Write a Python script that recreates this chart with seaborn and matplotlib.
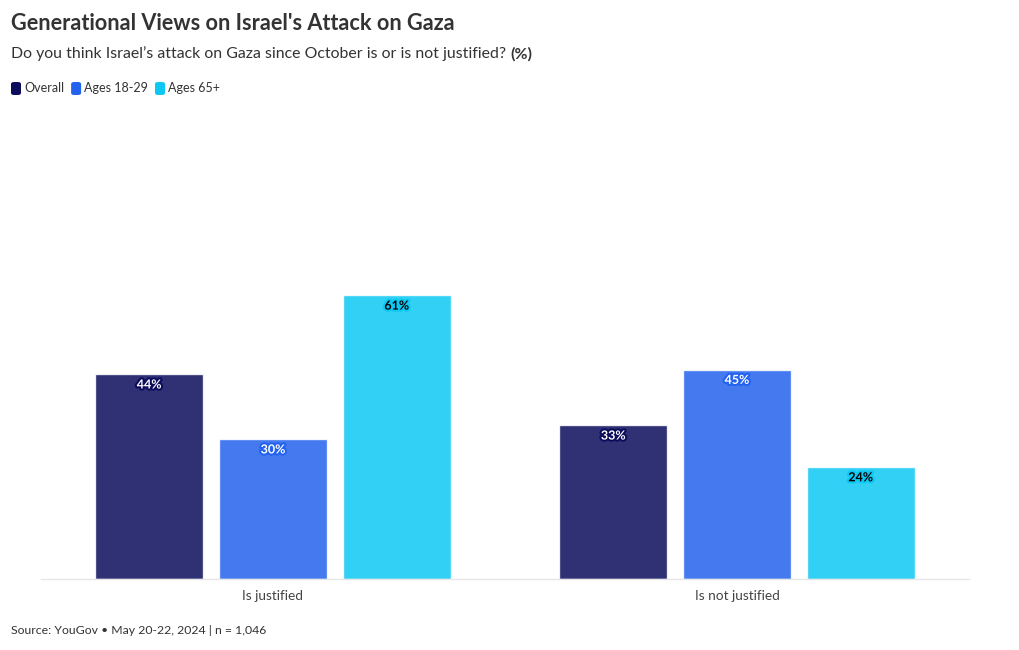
import pandas as pd
import seaborn as sns
import matplotlib.pyplot as plt
import matplotlib.patheffects as pe
from matplotlib.patches import FancyBboxPatch

# data
responses = ["Is justified", "Is not justified"]
groups = ["Overall", "Ages 18-29", "Ages 65+"]
overall = [44, 33]
ages_18_29 = [30, 45]
ages_65 = [61, 24]

colors = ["#0c0c5c", "#2362ee", "#0dc8f3"]
label_text = ["white", "white", "black"]

df = pd.DataFrame({
    "response": responses * 3,
    "group": [g for g in groups for _ in responses],
    "pct": overall + ages_18_29 + ages_65,
})

sns.set_style("white")
plt.rcParams["font.family"] = ["Lato", "DejaVu Sans"]

fig = plt.figure(figsize=(10.2, 6.5), dpi=100)
ax = fig.add_axes([41 / 1020, 1 - 578.5 / 650, 928 / 1020, 464 / 650])

sns.barplot(data=df, x="response", y="pct", hue="group", hue_order=groups,
            palette=colors, alpha=0.85, width=0.8, gap=0.13, saturation=1,
            legend=False, ax=ax)

ax.set_ylim(0, 100)
ax.set_xlim(-0.5, 1.5)
ax.set_xlabel("")
ax.set_ylabel("")
ax.set_yticks([])
ax.tick_params(axis="x", length=0, pad=8, labelsize=9.8, labelcolor="#444444")
for s in ["top", "right", "left"]:
    ax.spines[s].set_visible(False)
ax.spines["bottom"].set_color("#e6e6e6")
ax.spines["bottom"].set_linewidth(1)

# value labels inside top of bars
for i, cont in enumerate(ax.containers):
    for bar in cont:
        h = bar.get_height()
        ax.annotate(f"{h:.0f}%", (bar.get_x() + bar.get_width() / 2, h),
                    xytext=(0, -3), textcoords="offset points",
                    ha="center", va="top", fontsize=9, fontweight="bold",
                    color=label_text[i],
                    path_effects=[pe.withStroke(linewidth=3, foreground=colors[i])])

# titles
fig.text(11 / 1020, 1 - 24 / 650, "Generational Views on Israel's Attack on Gaza",
         fontsize=15.6, fontweight="bold", color="#333333", va="center")
fig.text(11 / 1020, 1 - 54 / 650,
         "Do you think Israel\u2019s attack on Gaza since October is or is not justified? ",
         fontsize=11.4, color="#333333", va="center")
fig.text(11 / 1020, 1 - 631 / 650, "Source: YouGov \u2022 May 20-22, 2024 | n = 1,046",
         fontsize=8.8, color="#333333", va="center")

# legend with rounded swatches
x = 11
for g, c in zip(groups, colors):
    fig.patches.append(FancyBboxPatch((x / 1020, 1 - 95 / 650), 10 / 1020, 13 / 650,
                                      boxstyle="round,pad=0,rounding_size=0.003",
                                      transform=fig.transFigure, facecolor=c,
                                      edgecolor="none"))
    t = fig.text((x + 13) / 1020, 1 - 88.5 / 650, g, fontsize=9,
                 color="#333333", va="center")
    fig.canvas.draw()
    bb = t.get_window_extent()
    x = bb.x1 + 7

# bold (%) after subtitle
fig.canvas.draw()
sub = fig.texts[1].get_window_extent()
fig.text(sub.x1 / 1020, 1 - 54 / 650, "(%)", fontsize=11.4, fontweight="bold",
         color="#333333", va="center")

fig.savefig("out.png", dpi=100)
